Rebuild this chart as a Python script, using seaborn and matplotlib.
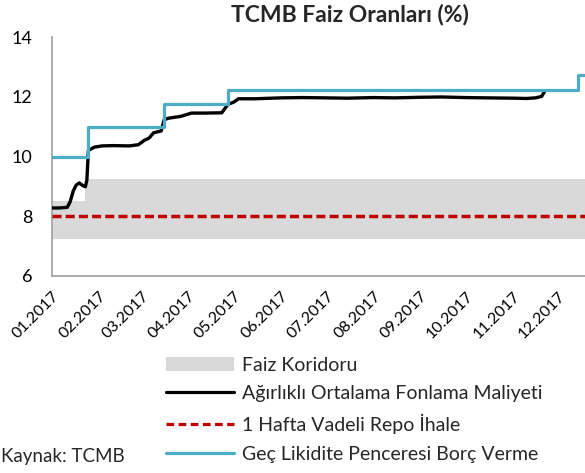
import numpy as np
import pandas as pd
import matplotlib
matplotlib.use("Agg")
import matplotlib.pyplot as plt
import matplotlib.dates as mdates
from matplotlib.patches import Patch
from matplotlib.lines import Line2D
import seaborn as sns

# ---- data ----
corridor_dates = ["2017-01-01", "2017-01-23", "2017-12-19"]
corridor_low = [7.25, 7.25, 7.25]
corridor_high = [8.5, 9.25, 9.25]

llw_dates = ["2017-01-01", "2017-01-25", "2017-03-16", "2017-04-27", "2017-12-14", "2017-12-19"]
llw_values = [10.0, 11.0, 11.75, 12.25, 12.75, 12.75]

repo_dates = ["2017-01-01", "2017-12-19"]
repo_values = [8.0, 8.0]

aofm_dates = ["2017-01-01", "2017-01-06", "2017-01-11", "2017-01-13", "2017-01-15", "2017-01-17",
              "2017-01-19", "2017-01-21", "2017-01-23", "2017-01-24", "2017-01-25", "2017-01-29",
              "2017-02-03", "2017-02-10", "2017-02-21", "2017-02-27", "2017-03-03", "2017-03-06",
              "2017-03-09", "2017-03-14", "2017-03-16", "2017-03-19", "2017-03-27", "2017-04-03",
              "2017-04-12", "2017-04-23", "2017-04-27", "2017-05-01", "2017-05-04", "2017-05-15",
              "2017-06-01", "2017-06-15", "2017-07-01", "2017-07-15", "2017-08-01", "2017-08-15",
              "2017-09-01", "2017-09-15", "2017-10-01", "2017-10-15", "2017-11-01", "2017-11-10",
              "2017-11-16", "2017-11-20", "2017-11-22"]
aofm_values = [8.28, 8.28, 8.30, 8.49, 8.85, 9.05,
               9.12, 9.04, 8.99, 9.21, 10.21, 10.32,
               10.36, 10.37, 10.36, 10.40, 10.55, 10.62,
               10.80, 10.86, 11.24, 11.29, 11.35, 11.46,
               11.46, 11.47, 11.75, 11.83, 11.94, 11.94,
               11.97, 11.98, 11.97, 11.96, 11.98, 11.97,
               11.99, 12.00, 11.98, 11.97, 11.96, 11.95,
               11.97, 12.02, 12.19]

month_ticks = pd.date_range("2017-01-01", "2017-12-01", freq="MS")

legend_labels = ["Faiz Koridoru", "Ağırlıklı Ortalama Fonlama Maliyeti",
                 "1 Hafta Vadeli Repo İhale", "Geç Likidite Penceresi Borç Verme"]

# ---- style ----
sns.set_style("white")
plt.rcParams['font.family'] = ['Lato', 'DejaVu Sans']

W, H = 585, 473
fig = plt.figure(figsize=(W / 100, H / 100), dpi=100)
ax = fig.add_axes([52 / W, (H - 276) / H, (W - 52) / W, (276 - 37.3) / H])

gray = "#D9D9D9"
black = "#000000"
red = "#C00000"
blue = "#4BACC6"
dash = (0, (2.6, 1.2))

cd = pd.to_datetime(corridor_dates)
ax.fill_between(cd, corridor_low, corridor_high, step="post", color=gray, linewidth=0, zorder=1)

repo_df = pd.DataFrame({"d": pd.to_datetime(repo_dates), "v": repo_values})
sns.lineplot(data=repo_df, x="d", y="v", ax=ax, color=red, linewidth=2.5,
             linestyle=dash, zorder=3)

aofm_df = pd.DataFrame({"d": pd.to_datetime(aofm_dates), "v": aofm_values})
sns.lineplot(data=aofm_df, x="d", y="v", ax=ax, color=black, linewidth=2.4, zorder=4)

llw_df = pd.DataFrame({"d": pd.to_datetime(llw_dates), "v": llw_values})
sns.lineplot(data=llw_df, x="d", y="v", ax=ax, color=blue, linewidth=2.3,
             drawstyle="steps-post", zorder=5)

ax.set_xlim(pd.Timestamp("2017-01-01"), pd.Timestamp("2017-12-18 14:00"))
ax.set_ylim(6, 14)
ax.set_yticks([6, 8, 10, 12, 14])
ax.set_xticks(month_ticks)
ax.xaxis.set_major_formatter(mdates.DateFormatter("%m.%Y"))
ax.set_xlabel("")
ax.set_ylabel("")

for s in ["top", "right"]:
    ax.spines[s].set_visible(False)
for s in ["left", "bottom"]:
    ax.spines[s].set_color("#A6A6A6")
    ax.spines[s].set_linewidth(1.3)
ax.tick_params(axis="y", which="major", direction="out", length=3.6, width=1.3,
               color="#A6A6A6", labelsize=13, labelcolor="black", pad=10.5)
ax.tick_params(axis="x", which="major", direction="out", length=3.2, width=1.3,
               color="#A6A6A6", labelsize=11.5, labelcolor="black", pad=6)
for lab in ax.get_xticklabels():
    lab.set_rotation(45)
    lab.set_ha("right")
    lab.set_rotation_mode("anchor")

fig.text(350 / W, (H - 21) / H, "TCMB Faiz Oranları (%)", ha="center", va="baseline",
         fontsize=16.5, fontweight="bold")
fig.text(1 / W, (H - 462) / H, "Kaynak: TCMB", ha="left", va="baseline", fontsize=13.5)

handles = [Patch(facecolor=gray, edgecolor="none"),
           Line2D([], [], color=black, linewidth=2.3),
           Line2D([], [], color=red, linewidth=2.3, linestyle=(0, (2.4, 1.4))),
           Line2D([], [], color=blue, linewidth=2.3)]
fig.legend(handles, legend_labels, loc="upper left", bbox_to_anchor=(166 / W, (H - 356.5) / H),
           frameon=False, fontsize=14, handlelength=3.5, handleheight=0.7,
           handletextpad=0.42, labelspacing=0.6, borderaxespad=0, borderpad=0)

fig.savefig("out.png", dpi=100)
